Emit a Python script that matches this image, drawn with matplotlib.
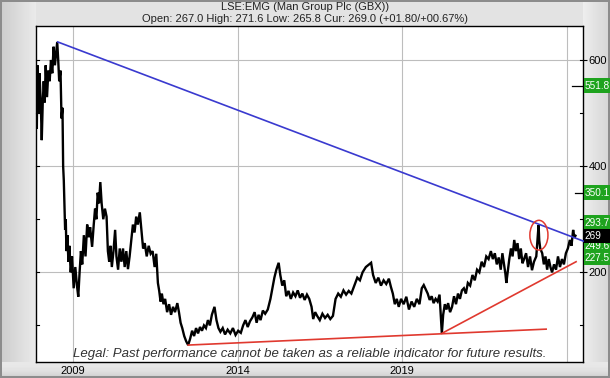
import numpy as np
import matplotlib
matplotlib.use("Agg")
import matplotlib.pyplot as plt
from matplotlib.patches import Rectangle, Ellipse

# ---------------- data ----------------
years = [2007.88, 2007.90, 2007.92, 2007.95, 2007.98, 2008.02, 2008.05, 2008.08, 2008.11, 2008.14,
         2008.17, 2008.21, 2008.25, 2008.29, 2008.33, 2008.37, 2008.41, 2008.45, 2008.49, 2008.52,
         2008.55, 2008.58, 2008.62, 2008.65, 2008.68, 2008.70, 2008.72, 2008.74, 2008.76, 2008.78,
         2008.80, 2008.83, 2008.86, 2008.89, 2008.93, 2008.97, 2009.02, 2009.07, 2009.12, 2009.16,
         2009.20, 2009.24, 2009.28, 2009.33, 2009.38, 2009.43, 2009.48, 2009.52, 2009.58, 2009.63,
         2009.67, 2009.71, 2009.75, 2009.79, 2009.83, 2009.87, 2009.92, 2009.97, 2010.02, 2010.06,
         2010.10, 2010.14, 2010.18, 2010.23, 2010.28, 2010.32, 2010.37, 2010.42, 2010.47, 2010.52,
         2010.57, 2010.62, 2010.67, 2010.72, 2010.77, 2010.82, 2010.87, 2010.92, 2010.97, 2011.03,
         2011.08, 2011.13, 2011.18, 2011.24, 2011.30, 2011.36, 2011.42, 2011.48, 2011.53, 2011.58,
         2011.62, 2011.66, 2011.70, 2011.75, 2011.80, 2011.86, 2011.92, 2011.98, 2012.04, 2012.10,
         2012.17, 2012.22, 2012.27, 2012.32, 2012.38, 2012.44, 2012.50, 2012.56, 2012.62, 2012.68,
         2012.74, 2012.80, 2012.86, 2012.92, 2012.98, 2013.04, 2013.10, 2013.16, 2013.22, 2013.30,
         2013.36, 2013.42, 2013.48, 2013.55, 2013.62, 2013.70, 2013.78, 2013.86, 2013.94, 2014.02,
         2014.10, 2014.17, 2014.24, 2014.31, 2014.38, 2014.45, 2014.52, 2014.58, 2014.64, 2014.70,
         2014.77, 2014.84, 2014.92, 2015.00, 2015.06, 2015.12, 2015.18, 2015.25, 2015.30, 2015.36,
         2015.42, 2015.48, 2015.55, 2015.62, 2015.69, 2015.76, 2015.83, 2015.90, 2015.97, 2016.04,
         2016.11, 2016.18, 2016.25, 2016.30, 2016.36, 2016.42, 2016.50, 2016.58, 2016.66, 2016.74,
         2016.82, 2016.90, 2016.98, 2017.06, 2017.14, 2017.22, 2017.30, 2017.38, 2017.46, 2017.55,
         2017.64, 2017.72, 2017.80, 2017.90, 2018.06, 2018.12, 2018.20, 2018.28, 2018.36, 2018.44,
         2018.52, 2018.60, 2018.66, 2018.72, 2018.78, 2018.84, 2018.90, 2018.97, 2019.05, 2019.13,
         2019.21, 2019.29, 2019.37, 2019.45, 2019.53, 2019.60, 2019.66, 2019.72, 2019.78, 2019.84,
         2019.90, 2019.96, 2020.02, 2020.08, 2020.14, 2020.21, 2020.25, 2020.30, 2020.35, 2020.40,
         2020.46, 2020.52, 2020.58, 2020.64, 2020.70, 2020.76, 2020.82, 2020.88, 2020.94, 2021.00,
         2021.07, 2021.14, 2021.21, 2021.28, 2021.35, 2021.42, 2021.49, 2021.56, 2021.63, 2021.70,
         2021.76, 2021.82, 2021.88, 2021.94, 2022.00, 2022.05, 2022.10, 2022.14, 2022.17, 2022.21,
         2022.26, 2022.31, 2022.36, 2022.41, 2022.46, 2022.51, 2022.56, 2022.61, 2022.66, 2022.71,
         2022.77, 2022.83, 2022.89, 2022.95, 2023.01, 2023.08, 2023.15, 2023.17, 2023.20, 2023.26,
         2023.31, 2023.36, 2023.41, 2023.46, 2023.51, 2023.56, 2023.62, 2023.68, 2023.74, 2023.80,
         2023.86, 2023.92, 2023.98, 2024.04, 2024.10, 2024.15, 2024.20, 2024.24, 2024.27]

prices = [540, 470, 590, 500, 575, 520, 449, 520, 560, 520,
          590, 530, 580, 560, 600, 575, 625, 590, 615, 634,
          600, 560, 580, 490, 510, 400, 373, 330, 280, 300,
          240, 270, 220, 250, 200, 230, 170, 210, 175, 154,
          200, 240, 215, 270, 230, 290, 266, 285, 248, 290,
          320, 300, 350, 330, 370, 330, 300, 320, 305, 240,
          220, 250, 210, 240, 280, 230, 205, 245, 220, 245,
          210, 240, 206, 230, 260, 290, 275, 305, 290, 313,
          280, 245, 255, 230, 250, 235, 240, 210, 235, 180,
          165, 145, 160, 140, 150, 125, 140, 120, 135, 125,
          142, 125, 105, 95, 80, 70, 63, 75, 90, 80,
          95, 85, 97, 90, 100, 95, 110, 100, 120, 135,
          110, 95, 88, 95, 83, 92, 85, 95, 82, 90,
          86, 100, 110, 97, 108, 115, 125, 105, 120, 110,
          128, 122, 130, 150, 170, 190, 205, 218, 195, 175,
          185, 155, 165, 150, 162, 155, 166, 152, 160, 148,
          158, 150, 135, 112, 125, 118, 110, 122, 114, 120,
          112, 118, 150, 160, 154, 166, 158, 165, 160, 175,
          190, 185, 200, 210, 218, 195, 180, 190, 175, 185,
          178, 188, 173, 160, 140, 150, 135, 150, 140, 154,
          130, 145, 135, 150, 140, 170, 176, 168, 160, 148,
          155, 142, 150, 145, 158, 85, 120, 140, 130, 142,
          125, 135, 155, 140, 160, 150, 166, 170, 160, 180,
          175, 195, 185, 205, 200, 220, 210, 230, 225, 240,
          225, 236, 215, 228, 205, 236, 215, 198, 180, 200,
          225, 245, 230, 261, 240, 255, 225, 245, 217, 225,
          236, 210, 230, 204, 220, 230, 289, 260, 245, 236,
          215, 230, 205, 225, 210, 200, 215, 205, 230, 210,
          225, 215, 236, 245, 261, 250, 280, 265, 269]

# trend lines (year, value)
blue_line_years = [2008.535, 2024.59]
blue_line_values = [634, 257]
red_low_years = [2012.50, 2023.38]
red_low_values = [63, 93]
red_up_years = [2020.21, 2024.29]
red_up_values = [85, 220]
circle_center = (2023.16, 270)

# y-axis and marker labels
y_ticks = [200, 400, 600]
x_ticks = [2009, 2014, 2019, 2024]
x_tick_labels = ["2009", "2014", "2019", ""]
level_values = [551.8, 350.1, 293.7, 249.6]
level_labels = ["551.8", "350.1", "293.7", "249.6"]
current_value = 269.0
current_label = "269"
support_value = 227.5
support_label = "227.5"

title = "LSE:EMG (Man Group Plc (GBX))"
subtitle = "Open: 267.0 High: 271.6 Low: 265.8 Cur: 269.0 (+01.80/+00.67%)"
legal = "Legal: Past performance cannot be taken as a reliable indicator for future results."

# ---------------- figure ----------------
W, H = 610, 378
fig = plt.figure(figsize=(W / 100, H / 100), dpi=100)
fig.patch.set_facecolor("#e2e2e2")

# background bevel / gradients
bg = fig.add_axes([0, 0, 1, 1], zorder=-10)
bg.set_axis_off()
img = np.full((H, W), 0.89)
xs = np.arange(W)
left = xs < 36
img[:, left] = 0.80 + 0.12 * (xs[left] / 36.0)
right = xs >= 583
img[:, right] = 0.93 - 0.10 * ((xs[right] - 583) / 27.0)
ys = np.arange(H)
bot = ys >= 362
img[bot, :] = (0.91 - 0.12 * ((ys[bot] - 362) / 16.0) ** 2)[:, None]
img[:2, :] = 0.55
img[-2:, :] = 0.55
img[:, :2] = 0.55
img[:, -2:] = 0.55
bg.imshow(img, cmap="gray", vmin=0, vmax=1, extent=[0, W, H, 0], aspect="auto",
          interpolation="bilinear")
bg.set_xlim(0, W)
bg.set_ylim(H, 0)

l, r, t, b = 35.7, 583.0, 25.7, 362.0
ax = fig.add_axes([l / W, 1 - b / H, (r - l) / W, (b - t) / H])
ax.set_facecolor("white")
ax.set_xlim(2007.866, 2024.50)
ax.set_ylim(31.1, 664.6)

for s in ax.spines.values():
    s.set_color("black")
    s.set_linewidth(1.0)

ax.set_xticks(x_ticks)
ax.set_xticklabels(x_tick_labels, fontsize=8, family="Liberation Sans")
ax.tick_params(axis="x", length=0, pad=3)
ax.yaxis.tick_right()
ax.set_yticks(y_ticks)
ax.set_yticklabels([str(v) for v in y_ticks], fontsize=8, family="Liberation Sans")
ax.tick_params(axis="y", direction="out", length=3, pad=1, right=True, left=False)
ax.grid(True, color="#bdbdbd", linewidth=0.8)
ax.set_axisbelow(True)

# inward minor ticks on both spines
trans = ax.get_yaxis_transform()
for v in [100, 200, 300, 400, 500, 600]:
    ax.plot([0, 0.006], [v, v], transform=trans, color="black", lw=0.8, clip_on=False, zorder=5)
    ax.plot([0.994, 1.0], [v, v], transform=trans, color="black", lw=0.8, clip_on=False, zorder=5)

# price series
ax.plot(years, prices, color="black", lw=1.7, zorder=3, solid_joinstyle="miter")

# trend lines
ax.plot(blue_line_years, blue_line_values, color="#3a3acf", lw=1.2, zorder=4, clip_on=False)
ax.plot(red_low_years, red_low_values, color="#e0392f", lw=1.2, zorder=4)
ax.plot(red_up_years, red_up_values, color="#e0392f", lw=1.2, zorder=4)
ell = Ellipse(circle_center, width=0.55, height=56, fill=False, edgecolor="#e0392f",
              lw=1.1, zorder=5)
ax.add_patch(ell)


def level_box(value, label, face, z):
    box_h = 27.0
    ax.add_patch(Rectangle((1.0015, value - box_h / 2), 0.06, box_h, transform=trans,
                           facecolor=face, edgecolor="none", clip_on=False, zorder=z))
    ax.annotate(label, xy=(1.0, value), xycoords=trans, xytext=(1.2, 0),
                textcoords="offset points", ha="left", va="center", fontsize=7.2,
                color="white", family="Liberation Sans", annotation_clip=False, zorder=z + 0.5)


green = "#1ea31e"
for i, (v, lab) in enumerate(zip(level_values, level_labels)):
    level_box(v, lab, green, 6 + i)
level_box(current_value, current_label, "black", 11)
level_box(support_value, support_label, green, 12)

# level marker ticks
ax.plot([0.98, 1.0], [551.8, 551.8], transform=trans, color="black", lw=0.9, clip_on=False, zorder=5)
ax.plot([0.985, 1.0], [350.1, 350.1], transform=trans, color="black", lw=0.9, clip_on=False, zorder=5)

# titles
fig.text(0.5, 1 - 7 / H, title, ha="center", va="center", fontsize=8, color="#222222",
         family="Liberation Sans")
fig.text(0.5, 1 - 18.5 / H, subtitle, ha="center", va="center", fontsize=8, color="#222222",
         family="Liberation Sans")

# legal text
ax.text(0.5, 0.024, legal, transform=ax.transAxes, ha="center", va="center", fontsize=9.5,
        style="italic", color="#333333", family="Liberation Sans", zorder=20)

fig.savefig("out.png", dpi=100, facecolor=fig.get_facecolor())
